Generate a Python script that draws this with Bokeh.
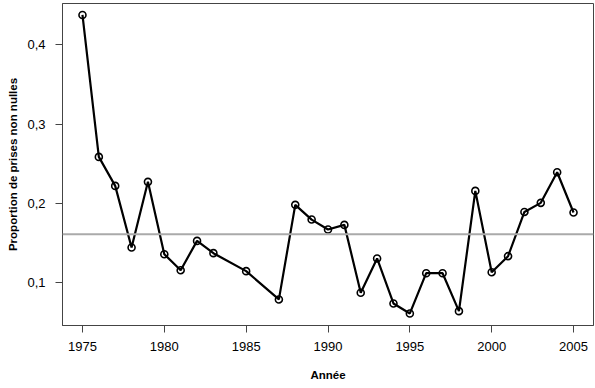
from bokeh.plotting import figure
from bokeh.models import Range1d, FixedTicker, CustomJSTickFormatter, Span
from bokeh.embed import file_html
from bokeh.resources import INLINE

years = [1975, 1976, 1977, 1978, 1979, 1980, 1981, 1982, 1983, 1985, 1987,
         1988, 1989, 1990, 1991, 1992, 1993, 1994, 1995, 1996, 1997, 1998,
         1999, 2000, 2001, 2002, 2003, 2004, 2005]
proportion = [0.4376, 0.2585, 0.2219, 0.1441, 0.2270, 0.1357, 0.1155, 0.1525,
              0.1370, 0.1143, 0.0786, 0.1980, 0.1794, 0.1668, 0.1727, 0.0870,
              0.1303, 0.0735, 0.0609, 0.1117, 0.1117, 0.0638, 0.2156, 0.1130,
              0.1332, 0.1890, 0.2005, 0.2391, 0.1883]
reference_level = 0.161
x_ticks = [1975, 1980, 1985, 1990, 1995, 2000, 2005]
y_ticks = [0.1, 0.2, 0.3, 0.4]

FONT = "Liberation Sans"

p = figure(width=595, height=388, output_backend="svg", toolbar_location=None,
           x_range=Range1d(1973.78, 2006.22), y_range=Range1d(0.0457, 0.4521),
           min_border_left=62, min_border_right=2, min_border_top=3,
           min_border_bottom=63)
p.background_fill_color = "white"
p.border_fill_color = "white"
p.xgrid.visible = False
p.ygrid.visible = False
p.outline_line_color = "#444444"
p.outline_line_width = 1

for ax in (p.xaxis[0], p.yaxis[0]):
    ax.axis_line_color = "#444444"
    ax.major_tick_line_color = "#444444"
    ax.major_tick_out = 7
    ax.major_tick_in = 0
    ax.minor_tick_out = 0
    ax.minor_tick_in = 0
    ax.major_label_text_font = FONT
    ax.major_label_text_font_size = "13px"
    ax.major_label_text_color = "black"
    ax.axis_label_text_font = FONT
    ax.axis_label_text_font_size = "11.5px"
    ax.axis_label_text_font_style = "bold"
    ax.axis_label_text_color = "black"

p.xaxis.ticker = FixedTicker(ticks=x_ticks)
p.xaxis.major_label_standoff = 9
p.xaxis.axis_label = "Année"
p.xaxis.axis_label_standoff = 15

p.yaxis.ticker = FixedTicker(ticks=y_ticks)
p.yaxis.formatter = CustomJSTickFormatter(code="return tick.toFixed(1).replace('.', ',');")
p.yaxis.major_label_orientation = "horizontal"
p.yaxis.major_label_standoff = 10
p.yaxis.axis_label = "Proportion de prises non nulles"
p.yaxis.axis_label_standoff = 5

p.add_layout(Span(location=reference_level, dimension="width",
                  line_color="#aaaaaa", line_width=2))

p.line(years, proportion, line_color="black", line_width=2.2)
p.scatter(years, proportion, size=7, marker="circle", fill_color=None,
          line_color="black", line_width=1.6)

open("out.html", "w").write(file_html(p, INLINE))
